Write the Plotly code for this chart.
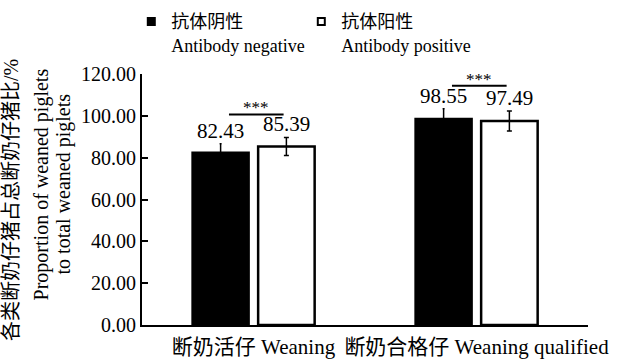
import plotly.graph_objects as go

categories = ["断奶活仔 Weaning", "断奶合格仔 Weaning qualified"]
series_names = ["抗体阴性<br>Antibody negative", "抗体阳性<br>Antibody positive"]
neg_values = [82.43, 98.55]
pos_values = [85.39, 97.49]
neg_err = [4.2, 4.8]
pos_err = [4.3, 4.8]
y_ticks = [0, 20, 40, 60, 80, 100, 120]
sig_labels = ["***", "***"]

SERIF = "Liberation Serif, Noto Sans CJK SC, serif"

BARGAP = 0.41
GROUPGAP = 0.141

fig = go.Figure()
fig.add_trace(go.Bar(
    x=categories, y=neg_values, name=series_names[0], showlegend=False,
    marker=dict(color="black", line=dict(color="black", width=2)),
    error_y=dict(type="data", array=neg_err, color="black", thickness=1.5, width=1),
))
fig.add_trace(go.Bar(
    x=categories, y=pos_values, name=series_names[1], showlegend=False,
    marker=dict(color="white", line=dict(color="black", width=2.5)),
    error_y=dict(type="data", array=pos_err, color="black", thickness=1.5, width=2.5),
))
# legend entries (small square keys)
fig.add_trace(go.Scatter(
    x=[None], y=[None], mode="markers", name=series_names[0],
    marker=dict(symbol="square", size=9, color="black", line=dict(color="black", width=0)),
))
fig.add_trace(go.Scatter(
    x=[None], y=[None], mode="markers", name=series_names[1],
    marker=dict(symbol="square", size=7, color="white", line=dict(color="black", width=2)),
))

# bar centre offsets within a category (in category units)
slot = (1 - BARGAP) / 2
offsets = [-slot / 2, slot / 2]

annotations = []
for i in range(len(categories)):
    for j, (vals, errs) in enumerate([(neg_values, neg_err), (pos_values, pos_err)]):
        annotations.append(dict(
            x=i + offsets[j], y=vals[i] + errs[i], xref="x", yref="y",
            text=f"{vals[i]:.2f}", showarrow=False, yanchor="bottom",
            font=dict(family=SERIF, size=21, color="black"), yshift=-1,
        ))
    top = max(neg_values[i] + neg_err[i], pos_values[i] + pos_err[i]) + 11
    fig.add_shape(type="line", xref="x", yref="y",
                  x0=i - 0.11, x1=i + 0.135, y0=top, y1=top,
                  line=dict(color="black", width=2))
    annotations.append(dict(
        x=i + 0.0125, y=top, xref="x", yref="y", text=sig_labels[i],
        showarrow=False, yanchor="bottom", yshift=-5,
        font=dict(family=SERIF, size=17, color="black"),
    ))

# y-axis title lines
annotations += [
    dict(x=-0.2937, y=0.498, xref="paper", yref="paper", textangle=-90,
         text="各类断奶仔猪占总断奶仔猪比/%", showarrow=False,
         xanchor="center", yanchor="middle",
         font=dict(family=SERIF, size=20, color="black")),
    dict(x=-0.2265, y=0.56, xref="paper", yref="paper", textangle=-90,
         text="Proportion of weaned piglets", showarrow=False,
         xanchor="center", yanchor="middle",
         font=dict(family=SERIF, size=20, color="black")),
    dict(x=-0.1771, y=0.56, xref="paper", yref="paper", textangle=-90,
         text="to total weaned piglets", showarrow=False,
         xanchor="center", yanchor="middle",
         font=dict(family=SERIF, size=20, color="black")),
]

fig.update_layout(
    width=617, height=362,
    margin=dict(l=142, r=29, t=74, b=37, autoexpand=False),
    paper_bgcolor="white", plot_bgcolor="white",
    barmode="group", bargap=BARGAP, bargroupgap=GROUPGAP,
    font=dict(family=SERIF, size=20, color="black"),
    annotations=annotations,
    legend=dict(orientation="h", x=-0.024, y=1.282, xanchor="left", yanchor="top",
                valign="top", font=dict(family=SERIF, size=18, color="black"),
                itemclick=False, bgcolor="rgba(0,0,0,0)",
                entrywidth=125, entrywidthmode="pixels"),
    showlegend=True,
)
fig.update_xaxes(showline=True, linecolor="black", linewidth=2, ticks="",
                 tickfont=dict(family=SERIF, size=21, color="black"),
                 ticklabelstandoff=2,
                 showgrid=False, zeroline=False, automargin=False)
fig.update_yaxes(range=[0, 120], tickvals=y_ticks, tickformat=".2f",
                 showline=True, linecolor="black", linewidth=2,
                 ticks="inside", ticklen=6, tickwidth=2, tickcolor="black",
                 tickfont=dict(family=SERIF, size=20, color="black"),
                 showgrid=False, zeroline=False, automargin=False)

fig.write_html("out.html", config={"displayModeBar": False},
               post_script="document.body.style.margin='0px';")
